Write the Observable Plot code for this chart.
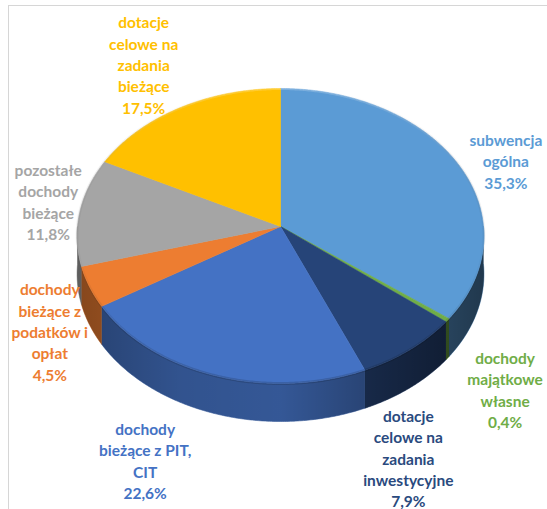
<!DOCTYPE html>
<html><head><meta charset="utf-8">
<script src="https://cdn.jsdelivr.net/npm/d3@7"></script>
<script src="https://cdn.jsdelivr.net/npm/@observablehq/plot@0.6"></script>
<style>
body{margin:0;background:#fff;}
#wrap{position:relative;width:547px;height:509px;overflow:hidden;}
#frame{position:absolute;left:8px;top:5px;width:560px;height:520px;border-left:1px solid #d6d6d6;border-top:1px solid #d6d6d6;}
#chart{position:absolute;left:0;top:0;}
</style></head><body>
<div id="wrap"><div id="frame"></div><div id="chart"></div></div>
<script>
// Data (clockwise from 12 o'clock)
const categories = [
  "subwencja\nogólna",
  "dochody\nmajątkowe\nwłasne",
  "dotacje\ncelowe na\nzadania\ninwestycyjne",
  "dochody\nbieżące z PIT,\nCIT",
  "dochody\nbieżące z\npodatków i\nopłat",
  "pozostałe\ndochody\nbieżące",
  "dotacje\ncelowe na\nzadania\nbieżące"
];
const values = [35.3, 0.4, 7.9, 22.6, 4.5, 11.8, 17.5];
const colors = ["#5B9BD5", "#70AD47", "#264478", "#4472C4", "#ED7D31", "#A5A5A5", "#FFC000"];
const labelColors = ["#5B9BD5", "#70AD47", "#2A4A7E", "#4472C4", "#ED7D31", "#A5A5A5", "#FFC000"];
// label placement factors (radial, relative to ellipse)
const labelKx = [1.24, 1.40, 1.04, 2.20, 1.24, 1.15, 1.29];
const labelKy = [1.12, 1.74, 1.93, 1.63, 1.67, 2.20, 1.36];

const W = 547, H = 509, CX = 280, CY = 233, RX = 203, RY = 146, DEPTH = 38 / 146;
const PERSP = 0.0644, APEX = -7 / 146, AY = 146.9 / 146;

const total = d3.sum(values);
let acc = 0;
const slices = values.map((v, i) => {
  const a0 = acc / total * 360; acc += v; const a1 = acc / total * 360;
  return {i, v, a0, a1, mid: (a0 + a1) / 2};
});
const rad = d => d * Math.PI / 180;
// projected point on the disk edge (perspective tilt)
const pt = (deg, dy = 0) => {
  const X = Math.sin(rad(deg)), Z = Math.cos(rad(deg)), s = 1 + PERSP * Z;
  return [X / s, APEX - AY * Z / s + dy];
};
const arc = (a0, a1) => { const n = Math.max(2, Math.ceil((a1 - a0) / 0.5)); return d3.range(n + 1).map(k => a0 + (a1 - a0) * k / n); };
const toRows = pts => pts.map(([x, y]) => ({x, y}));

function topFace(s) { return toRows([[0, APEX], ...arc(s.a0, s.a1).map(a => pt(a)), [0, APEX]]); }
function wall(a, b) { const as = arc(a, b); return toRows([...as.map(t => pt(t)), ...as.slice().reverse().map(t => pt(t, DEPTH))]); }

const marks = [];
// side walls
slices.filter(s => s.a1 > 90 && s.a0 < 270).forEach(s => {
  const c = d3.color(colors[s.i]).darker(0.6).formatHex();
  marks.push(Plot.line(wall(Math.max(s.a0, 90), Math.min(s.a1, 270)), {x: "x", y: "y", fill: c, stroke: c, strokeWidth: 0.6}));
});
// shading overlay on the wall
marks.push(Plot.line(wall(90, 270), {x: "x", y: "y", fill: "url(#wallShade)", stroke: "none"}));
// top faces
slices.forEach(s => {
  marks.push(Plot.line(topFace(s), {x: "x", y: "y", fill: colors[s.i], stroke: colors[s.i], strokeWidth: 0.6}));
});
// rim shade on top
marks.push(Plot.line(toRows(arc(0, 360).map(a => pt(a))), {x: "x", y: "y", stroke: "url(#rimShade)", strokeWidth: 3, strokeOpacity: 0.5}));
// labels
slices.forEach(s => {
  const pct = values[s.i].toFixed(1).replace(".", ",") + "%";
  marks.push(Plot.text([{x: labelKx[s.i] * Math.sin(rad(s.mid)), y: -labelKy[s.i] * Math.cos(rad(s.mid)), t: categories[s.i] + "\n" + pct}], {
    x: "x", y: "y", text: "t", fill: labelColors[s.i], fontSize: 15.5, fontWeight: "bold",
    fontFamily: "Lato, 'Open Sans', sans-serif", lineHeight: 1.38, textAnchor: "middle", lineAnchor: "middle"
  }));
});

const svg = Plot.plot({
  width: W, height: H, margin: 0,
  x: {domain: [-CX / RX, (W - CX) / RX], range: [0, W], axis: null},
  y: {domain: [-CY / RY, (H - CY) / RY], range: [0, H], axis: null},
  style: {background: "transparent"},
  marks
});
const defs = document.createElementNS("http://www.w3.org/2000/svg", "defs");
defs.innerHTML = `
<linearGradient id="wallShade" gradientUnits="userSpaceOnUse" x1="${CX - RX}" y1="0" x2="${CX + RX}" y2="0">
  <stop offset="0" stop-color="#000" stop-opacity="0.30"/>
  <stop offset="0.25" stop-color="#000" stop-opacity="0.10"/>
  <stop offset="0.5" stop-color="#000" stop-opacity="0.05"/>
  <stop offset="0.8" stop-color="#000" stop-opacity="0.35"/>
  <stop offset="1" stop-color="#000" stop-opacity="0.55"/>
</linearGradient>
<linearGradient id="rimShade" gradientUnits="userSpaceOnUse" x1="0" y1="${CY - RY}" x2="0" y2="${CY + RY}">
  <stop offset="0" stop-color="#fff" stop-opacity="0.4"/>
  <stop offset="0.6" stop-color="#000" stop-opacity="0.05"/>
  <stop offset="1" stop-color="#000" stop-opacity="0.3"/>
</linearGradient>`;
svg.insertBefore(defs, svg.firstChild);
document.getElementById("chart").appendChild(svg);
</script>
</body></html>
